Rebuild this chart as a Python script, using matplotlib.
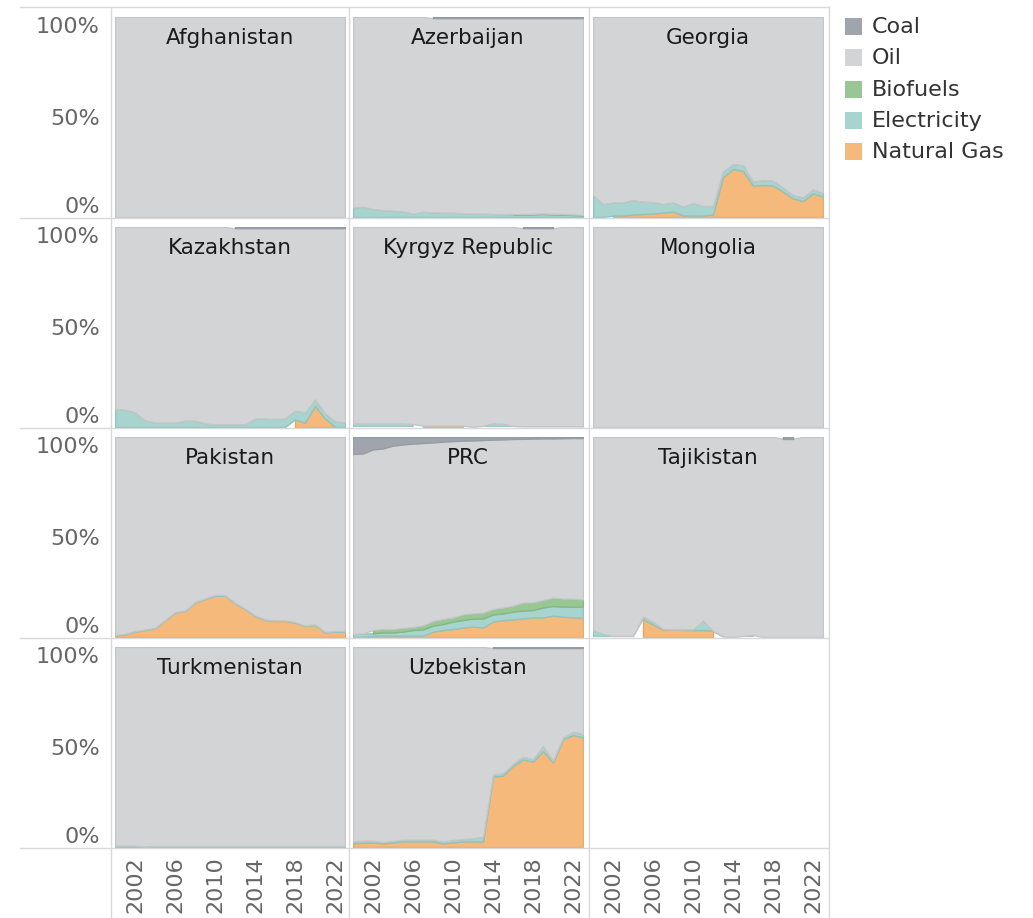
import matplotlib
matplotlib.use("Agg")
import matplotlib.pyplot as plt
import numpy as np
from matplotlib.lines import Line2D
from matplotlib.patches import Rectangle

# ---------- Data (share of final energy, %, 2000-2023) ----------
years = list(range(2000, 2024))
countries = ["Afghanistan", "Azerbaijan", "Georgia",
             "Kazakhstan", "Kyrgyz Republic", "Mongolia",
             "Pakistan", "PRC", "Tajikistan",
             "Turkmenistan", "Uzbekistan"]
fuels = ["Coal", "Oil", "Biofuels", "Electricity", "Natural Gas"]

# series that are absent for a country are simply not listed (treated as zero)
elec_azerbaijan = [4.7, 5.2, 4.0, 3.5, 3.2, 2.8, 1.7, 2.7, 2.3, 2.2, 2.2, 1.8,
                   1.7, 1.7, 1.5, 1.3, 1.2, 1.2, 1.3, 1.5, 1.3, 1.2, 1.0, 0.8]
bio_azerbaijan = [0, 0, 0, 0, 0, 0, 0, 0, 0, 0, 0, 0,
                  0, 0, 0, 0, 0.3, 0.3, 0.3, 0.3, 0.3, 0.3, 0.3, 0.3]
coal_azerbaijan = [0, 0, 0, 0, 0, 0, 0, 0, 0.6, 0.6, 0.6, 0.6,
                   0.6, 0.6, 0.6, 0.6, 0.6, 0.6, 0.6, 0.6, 0.6, 0.6, 0.6, 0.6]

gas_georgia = [0, 0, 0.7, 0.8, 1.2, 1.5, 1.8, 2.2, 2.7, 0.8, 0.7, 0.7,
               1.2, 20.0, 24.0, 23.0, 15.7, 16.0, 15.7, 12.7, 9.3, 8.0, 11.8, 10.2]
elec_georgia = [11.0, 6.5, 6.6, 6.5, 7.3, 6.2, 5.7, 4.3, 4.6, 4.4, 6.3, 4.8,
                4.3, 2.7, 2.5, 3.0, 2.0, 2.5, 2.5, 2.0, 1.7, 1.8, 2.0, 2.0]

gas_kazakhstan = [0, 0, 0, 0, 0, 0, 0, 0, 0, 0, 0, 0,
                  0, 0, 0, 0, 0, 0, 3.8, 2.2, 10.5, 4.3, 0.1, 0]
elec_kazakhstan = [9.0, 8.7, 7.3, 3.5, 2.2, 2.2, 2.2, 3.2, 3.2, 1.8, 1.3, 1.3,
                   1.3, 1.3, 4.3, 4.3, 4.0, 4.3, 4.4, 5.1, 3.3, 2.5, 2.7, 2.3]
coal_kazakhstan = [0, 0, 0, 0, 0, 0, 0, 0, 0, 0, 0, 0,
                   0.7, 0.7, 0.7, 0.7, 0.7, 0.7, 0.7, 0.7, 0.7, 0.7, 0.7, 0.7]

gas_kyrgyz = [0, 0, 0, 0, 0, 0, 0, 0.7, 0.7, 0.7, 0.7, 0.7,
              0, 0, 0, 0, 0, 0, 0, 0, 0, 0, 0, 0]
elec_kyrgyz = [1.8, 1.8, 1.8, 1.8, 1.8, 1.8, 1.5, 0, 0, 0, 0, 0,
               0, 0.6, 1.8, 1.6, 0.5, 0.3, 0.3, 0.3, 0.3, 0.3, 0.3, 0.3]
coal_kyrgyz = [0, 0, 0, 0, 0, 0, 0, 0, 0, 0, 0, 0,
               0, 0, 0, 0, 0, 0.6, 0.6, 0.6, 0.6, 0, 0, 0]

gas_pakistan = [0.7, 1.3, 2.7, 3.5, 4.3, 8.2, 12.2, 13.0, 17.2, 19.0, 20.7, 20.7,
                16.8, 14.0, 10.5, 8.5, 8.0, 8.0, 7.2, 5.5, 6.0, 2.3, 2.7, 2.7]
elec_pakistan = [0.3, 0.3, 0.3, 0.3, 0.3, 0.3, 0.3, 0.3, 0.3, 0.3, 0.3, 0.3,
                 0.3, 0.3, 0.3, 0.3, 0.3, 0.3, 0.3, 0.3, 0.3, 0.3, 0.3, 0.3]

gas_prc = [0, 0.2, 0.5, 0.7, 0.7, 0.7, 0.7, 0.7, 2.7, 3.5, 4.0, 4.7,
           5.2, 4.8, 7.7, 8.5, 8.8, 9.3, 9.8, 9.8, 10.7, 10.2, 9.8, 9.7]
elec_prc = [1.5, 1.6, 1.3, 1.6, 1.6, 2.0, 2.8, 3.1, 3.0, 3.0, 3.7, 3.8,
            4.0, 4.5, 3.6, 3.3, 3.9, 3.9, 3.7, 5.0, 4.8, 5.0, 5.4, 5.5]
bio_prc = [0, 0, 1.7, 1.7, 1.7, 1.8, 1.5, 2.0, 2.3, 2.5, 2.1, 2.8,
           2.6, 2.9, 2.7, 2.9, 3.0, 4.0, 3.8, 3.7, 4.2, 4.0, 4.0, 3.6]
coal_prc = [8.5, 8.2, 6.2, 5.7, 4.3, 3.7, 3.3, 3.0, 2.7, 2.3, 2.0, 1.8,
            1.7, 1.5, 1.3, 1.2, 1.0, 0.9, 0.8, 0.7, 0.7, 0.6, 0.5, 0.5]

gas_tajikistan = [0, 0, 0, 0, 0, 8.8, 6.2, 3.5, 3.8, 3.5, 3.3, 3.3,
                  3.0, 0, 0, 0, 0, 0, 0, 0, 0, 0, 0, 0]
elec_tajikistan = [3.5, 1.5, 0.5, 0.5, 0.5, 1.4, 1.5, 0.5, 0.1, 0.3, 0.5, 4.9,
                   0.1, 0.2, 0, 0.5, 1.0, 0, 0, 0, 0, 0, 0, 0]
coal_tajikistan = [0, 0, 0, 0, 0, 0, 0, 0, 0, 0, 0, 0,
                   0, 0, 0, 0, 0, 0, 0, 0.8, 0.8, 0, 0, 0]

elec_turkmenistan = [0.7, 0.7, 0.7, 0.3, 0.5, 0.5, 0.5, 0.5, 0.5, 0.5, 0.5, 0.5,
                     0.5, 0.5, 0.5, 0.5, 0.5, 0.5, 0.5, 0.5, 0.5, 0.5, 0.5, 0.5]

gas_uzbekistan = [1.8, 2.2, 2.2, 1.8, 2.3, 2.8, 2.8, 2.8, 2.8, 1.8, 2.3, 2.8,
                  2.8, 2.7, 35.2, 35.7, 40.5, 43.8, 42.7, 48.0, 42.2, 53.8, 56.0, 54.8]
elec_uzbekistan = [0.9, 1.0, 1.0, 0.7, 0.7, 0.9, 0.9, 0.9, 0.9, 0.9, 1.2, 1.2,
                   1.5, 2.5, 1.1, 1.1, 1.0, 1.4, 1.1, 2.5, 1.0, 0.9, 1.7, 1.7]
coal_uzbekistan = [0, 0, 0, 0, 0, 0, 0, 0, 0, 0, 0, 0,
                   0, 0, 0.5, 0.5, 0.5, 0.5, 0.5, 0.5, 0.5, 0.5, 0.5, 0.5]

series = {
    "Azerbaijan": {"Electricity": elec_azerbaijan, "Biofuels": bio_azerbaijan, "Coal": coal_azerbaijan},
    "Georgia": {"Natural Gas": gas_georgia, "Electricity": elec_georgia},
    "Kazakhstan": {"Natural Gas": gas_kazakhstan, "Electricity": elec_kazakhstan, "Coal": coal_kazakhstan},
    "Kyrgyz Republic": {"Natural Gas": gas_kyrgyz, "Electricity": elec_kyrgyz, "Coal": coal_kyrgyz},
    "Pakistan": {"Natural Gas": gas_pakistan, "Electricity": elec_pakistan},
    "PRC": {"Natural Gas": gas_prc, "Electricity": elec_prc, "Biofuels": bio_prc, "Coal": coal_prc},
    "Tajikistan": {"Natural Gas": gas_tajikistan, "Electricity": elec_tajikistan, "Coal": coal_tajikistan},
    "Turkmenistan": {"Electricity": elec_turkmenistan},
    "Uzbekistan": {"Natural Gas": gas_uzbekistan, "Electricity": elec_uzbekistan, "Coal": coal_uzbekistan},
}

# ---------- Style ----------
colors = {"Coal": "#a0a5ad", "Oil": "#d3d4d6", "Biofuels": "#98c794",
          "Electricity": "#a8d4d0", "Natural Gas": "#f5b97b"}
edges = {"Coal": "#969ca4", "Oil": "#c3c6c7", "Biofuels": "#84b880",
         "Electricity": "#92c2bd", "Natural Gas": "#eaa96a"}
stack_order = ["Natural Gas", "Electricity", "Biofuels", "Oil", "Coal"]
tick_color = "#666666"
line_color = "#d9d9d9"

W, H = 1033, 918
fig = plt.figure(figsize=(W / 100, H / 100), dpi=100)
plt.rcParams["font.family"] = ["DejaVu Sans"]

col_left = [115, 353, 593]
row_top = [17, 227, 437, 647]
pw, ph = 230, 200
yrs = np.array(years)


def fx(px):
    return px / W


def fy(py):
    return 1 - py / H


for k in range(12):
    r, c = divmod(k, 3)
    ax = fig.add_axes([fx(col_left[c]), fy(row_top[r] + ph), pw / W, ph / H])
    ax.set_xlim(2000, 2023)
    ax.set_ylim(0, 100)
    for s in ax.spines.values():
        s.set_visible(False)
    ax.set_facecolor("none")

    if k < len(countries):
        name = countries[k]
        data = series.get(name, {})
        vals = {f: np.array(data[f], dtype=float) if f in data else np.zeros(len(years))
                for f in fuels}
        vals["Oil"] = 100 - (vals["Coal"] + vals["Biofuels"] + vals["Electricity"] + vals["Natural Gas"])
        base = np.zeros(len(years))
        for f in stack_order:
            top = base + vals[f]
            if f == "Oil":
                ax.fill_between(yrs, base, top, facecolor=colors[f], edgecolor=edges[f],
                                linewidth=1.0, zorder=2)
            elif vals[f].max() > 0:
                # missing years leave a gap, as in the original
                ax.fill_between(yrs, base, top, where=vals[f] > 0, facecolor=colors[f],
                                edgecolor=edges[f], linewidth=1.0, zorder=2)
            base = top
        ax.text(0.5, 0.895, name, transform=ax.transAxes, ha="center", va="center",
                fontsize=15.5, color="#1a1a1a", zorder=5)

    # y tick labels on first column
    if c == 0:
        ax.set_yticks([0, 50, 100])
        ax.set_yticklabels(["0%", "50%", "100%"])
        ax.tick_params(axis="y", length=0, pad=11, labelsize=16, labelcolor=tick_color)
        labs = ax.get_yticklabels()
        labs[0].set_va("bottom")
        labs[2].set_va("top")
    else:
        ax.set_yticks([])

    # x tick labels on bottom row
    if r == 3:
        ax.set_xticks([2002, 2006, 2010, 2014, 2018, 2022])
        ax.set_xticklabels(["2002", "2006", "2010", "2014", "2018", "2022"], rotation=90)
        ax.tick_params(axis="x", length=0, pad=7, labelsize=16, labelcolor=tick_color)
    else:
        ax.set_xticks([])

# ---------- Cell separator lines ----------
for y in [7, 218, 428, 638, 848]:
    fig.add_artist(Line2D([fx(20), fx(829)], [fy(y), fy(y)], color=line_color, lw=1))
for x in [111, 349, 589, 829]:
    fig.add_artist(Line2D([fx(x), fx(x)], [fy(7), fy(918)], color=line_color, lw=1))

# ---------- Legend ----------
legend_y = [27, 58, 90, 121, 152]
for f, y in zip(fuels, legend_y):
    fig.add_artist(Rectangle((fx(845), fy(y + 8)), 17 / W, 17 / H,
                             facecolor=colors[f], edgecolor="none"))
    fig.text(fx(872), fy(y), f, ha="left", va="center", fontsize=16, color="#333333")

fig.savefig("out.png", dpi=100)
